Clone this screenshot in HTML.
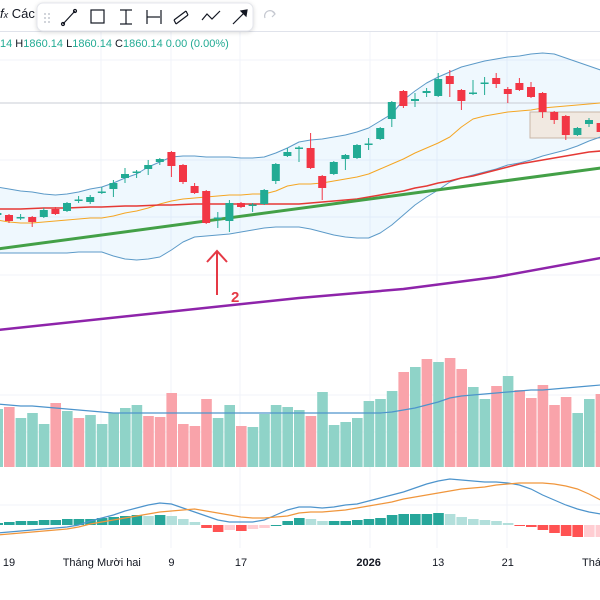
<!DOCTYPE html>
<html><head><meta charset="utf-8"><style>
body{margin:0;width:600px;height:600px;overflow:hidden;background:#fff;font-family:"Liberation Sans",sans-serif}
svg{display:block}
</style></head><body>
<svg id="c" width="600" height="600" viewBox="0 0 600 600">
<g id="grid"></g>
<g id="main"></g>
<g id="vol"></g>
<g id="macd"></g>
<g id="xaxis"></g>
<g>
<line x1="217" y1="295" x2="217" y2="252" stroke="#e53945" stroke-width="2"/>
<polyline points="207,262 217,251 227,262" fill="none" stroke="#e53945" stroke-width="2"/>
<text x="231" y="302" font-size="15" font-weight="bold" fill="#e53945">2</text>
</g>
<g>
<rect x="0" y="0" width="600" height="31" fill="#fff"/>
<line x1="0" y1="31.5" x2="600" y2="31.5" stroke="#e0e3eb"/>
<text x="0" y="18" font-size="13" fill="#131722" font-style="italic">f<tspan font-size="9">x</tspan> <tspan font-style="normal">Các</tspan></text>
<g>
<rect x="37" y="3" width="216" height="28" rx="6" fill="#fff" stroke="#e4e6ec" style="filter:drop-shadow(0 1px 2px rgba(0,0,0,.15))"/>
<g fill="#c5c8d0"><circle cx="45" cy="14" r="1"/><circle cx="49" cy="14" r="1"/><circle cx="45" cy="18" r="1"/><circle cx="49" cy="18" r="1"/><circle cx="45" cy="22" r="1"/><circle cx="49" cy="22" r="1"/></g>
<g fill="none" stroke="#131722" stroke-width="1.2">
<g><line x1="63" y1="24" x2="75" y2="11"/><circle cx="63" cy="24" r="1.5"/><circle cx="75" cy="11" r="1.5"/></g>
<g><rect x="91" y="10" width="13" height="13"/></g>
<g><line x1="120" y1="10" x2="132" y2="10"/><line x1="126" y1="10" x2="126" y2="24"/><line x1="120" y1="24" x2="132" y2="24"/></g>
<g><line x1="147" y1="10" x2="147" y2="24"/><line x1="147" y1="17" x2="160" y2="17"/><line x1="161" y1="10" x2="161" y2="24"/></g>
<g><path d="M174 20 L186 11 M176 24 L188 15 M174 20 L176 24 M186 11 L188 15"/></g>
<g><polyline points="202,20 207,14 212,19 220,11"/></g>
<g><line x1="233" y1="24" x2="246" y2="11"/><path d="M241 11 L247 10 L246 16 Z" fill="#131722"/></g>
</g></g>
<path d="M265 18 A5 5 0 0 1 275 14 M272 11 L275 14 L272 17" fill="none" stroke="#c5c8d0" stroke-width="1.2"/>
</g>
<text x="0" y="47" font-size="11" fill="#22ab94">14 <tspan fill="#131722">H</tspan>1860.14 <tspan fill="#131722">L</tspan>1860.14 <tspan fill="#131722">C</tspan>1860.14 0.00 (0.00%)</text>
</svg>
<script>
const openP=[1785,1785,1782,1783,1783,1791,1789,1799.5,1798,1807.5,1811,1822,1827.5,1831,1838,1848,1835,1814,1809,1781.5,1779,1797,1794.5,1796,1819,1844,1851,1852,1824,1826,1841,1842,1855.5,1861,1881,1909,1899,1907,1904,1924,1910,1906.5,1916.5,1922,1911,1917,1913,1907,1888,1884,1865,1876,1877];
const closeP=[1787,1779,1783,1778,1790,1786,1797,1800.5,1803,1808.5,1817,1826,1828.5,1835,1841,1834,1818,1807,1777,1782.5,1797,1793,1795.5,1810,1836,1848,1852.5,1832,1812,1838,1845,1855,1856.5,1872,1898,1894,1901,1909,1921,1916,1899,1907.5,1917.5,1916,1906,1910,1903,1888,1880,1865,1872,1880,1868];
const highP=[1788,1786,1786,1784,1792,1793,1798,1804,1805,1813,1820,1832,1830,1840,1842,1849,1836,1817,1810,1788,1800,1798,1797,1811,1837,1852,1854,1867,1825,1839,1846,1856,1862,1873,1899,1910,1907,1912,1927,1930,1911,1920,1923,1927,1913,1922,1918,1908,1889,1885,1873,1882,1878];
const lowP=[1783,1777,1780,1773,1782,1785,1788,1797,1796,1806,1803,1817,1822,1825,1835,1823,1816,1806,1776,1772,1768,1792,1788,1795,1816,1843,1838,1831,1800,1825,1830,1841,1850,1860,1873,1892,1893,1903,1903,1903,1890,1905,1905,1912,1897,1909,1902,1882,1876,1860,1864,1873,1853];
const bbUpperY=[187,189,191,192,194,195,194,192,189,187,183,178,174,167,162,157,156,156,157,157,157,158,158,157,153,148,142,140,139,137,135,132,128,121,114,100,91,83,77,72,67,64,61,59,57,56,54,53,54,58,62,66,70];
const bbLowerY=[253,253,253,253,253,253,253,252,252,252,256,259,260,259,257,250,242,237,236,235,234,232,230,228,227,227,227,229,232,235,237,238,238,233,225,215,205,197,190,182,178,175,172,169,165,163,160,156,153,150,146,141,137];
const bbMidY=[220,222,223,223,222,221,220,219,218,218,216,213,211,208,204,201,199,198,197,196,195,195,194,194,191,186,184,184,183,181,179,177,174,169,164,159,153,148,143,137,127,119,116,114,112,111,110,108,107,106,105,104,103];
const ma50Y=[209,209,209,208.5,208,208,208,207.5,207,207,206.5,206,206,205.5,205,205,204.5,204,204,204,204,204,204,204,204,204,204,203,202,201,200,199,197,195,193,191,188,186,183,181,178,176,173,170,167,164,162,160,158,156,154,152,151];
const trendIdx=[0,52];
const trendY=[249,168];
const ma200Idx=[0,13,26,35,43,52];
const ma200Y=[330,314,298,289,277,258];
const volume=[580,600,490,540,430,640,560,490,520,430,540,590,620,510,500,740,430,410,680,490,620,410,400,530,620,600,570,510,750,420,450,490,660,680,760,950,1000,1080,1050,1090,980,800,680,810,910,770,690,820,620,700,540,680,730];
const volUp=[1,0,1,1,1,0,1,0,1,1,1,1,1,0,0,0,0,0,0,1,1,0,1,1,1,1,1,0,1,1,1,1,1,1,1,0,1,0,1,0,0,1,1,0,1,0,0,0,0,0,1,1,0];
const volMA=[630,620,610,610,600,590,580,570,560,550,540,540,540,540,540,540,540,540,540,540,540,540,540,540,540,540,540,540,540,540,540,540,540,540,550,570,590,620,650,690,710,720,730,740,750,760,770,770,780,790,800,810,820];
const macdHist=[2,3,4,4,5,5,6,6,6,7,8,9,10,9,10,9,6,3,-3,-7,-5,-6,-4,-3,0,4,7,6,4,4,4,5,6,7,10,11,11,11,12,11,8,6,5,4,2,-1,-2,-5,-8,-11,-12,-12,-12];
const macdLine=[-8,-7,-6,-5,-4,-3,-2,0,4,7,10,14,17,20,22,21,17,13,9,5,3,3,3,5,10,15,18,18,17,18,20,21,24,27,30,33,37,41,44,46,45,44,43,43,42,40,36,30,25,20,16,13,11];
const signalLine=[-10,-9,-8,-7,-6,-5,-4,-2,1,3,5,7,9,11,13,14,15,16,14,12,10,8,7,7,8,9,12,13,13,14,15,17,19,21,23,26,28,30,32,34,36,37,38,40,41,42,42,42,41,39,36,31,25];
const xTicks=[1,9,15,21,32,38,44,51.3];
const xTickLabels=["19","Tháng Mười hai","9","17","2026","13","21","Tháng"];

const NS="http://www.w3.org/2000/svg";
const x=i=>-2.6+11.6*i;
const yPrice=p=>2000-p;
const yVol=v=>467-v/10;
const yMacd=v=>525-v;
function mk(tag,attrs,parent){const e=document.createElementNS(NS,tag);for(const k in attrs)e.setAttribute(k,attrs[k]);parent.appendChild(e);return e;}
const grid=document.getElementById('grid'),main=document.getElementById('main'),vol=document.getElementById('vol'),macd=document.getElementById('macd'),xa=document.getElementById('xaxis');
[101,171,240,370,437,507].forEach(gx=>{const l=mk('line',{x1:gx,x2:gx,y1:32,y2:548,stroke:'#f0f3fa'},grid);});
[60,103,160,217,275,395,432,505].forEach(gy=>{const l=mk('line',{x1:0,x2:600,y1:gy,y2:gy,stroke:'#f0f3fa'},grid);});
// bands
let up=bbUpperY.map((v,i)=>x(i)+','+v),lo=bbLowerY.map((v,i)=>x(i)+','+v).reverse();
const fill=mk('polygon',{points:up.concat(lo).join(' '),fill:'rgba(33,150,243,0.07)'},main);

const pl=(arr,xs,stroke,w,name)=>{const e=mk('polyline',{points:arr.map((v,i)=>xs(i)+','+v).join(' '),fill:'none',stroke:stroke,'stroke-width':w,'stroke-linejoin':'round'},main);return e;};
const price=mk('line',{x1:0,x2:600,y1:103,y2:103,stroke:'#c9ccd4'},main);

const box=mk('rect',{x:530,y:112,width:72,height:26,fill:'rgba(245,200,160,0.3)',stroke:'#c9b6a8'},main);

pl(bbUpperY,x,'#5c9ac8',1,'bollinger-upper');
pl(bbLowerY,x,'#5c9ac8',1,'bollinger-lower');
pl(bbMidY,x,'#f5a623',1,'bollinger-basis');
pl(ma50Y,x,'#e53935',1.6,'ma-50');
pl(trendY,i=>x(trendIdx[i]),'#43a047',3,'ma-green');
pl(ma200Y,i=>x(ma200Idx[i]),'#8e24aa',2.5,'ma-200');
openP.forEach((o,i)=>{const c=closeP[i],upc=c>=o,col=upc?'#22ab94':'#f23645';
const w=mk('line',{x1:x(i),x2:x(i),y1:yPrice(highP[i]),y2:yPrice(lowP[i]),stroke:col,'stroke-width':1},main);

const t=Math.min(yPrice(o),yPrice(c)),h=Math.max(1.5,Math.abs(o-c));
const b=mk('rect',{x:x(i)-4,y:t,width:8,height:h,fill:col},main);
});
// volume
volume.forEach((v,i)=>{const r=mk('rect',{x:x(i)-5,y:yVol(v),width:10.6,height:467-yVol(v),fill:volUp[i]?'#8fd3c8':'#f9a3aa'},vol);
});
const vm=mk('polyline',{points:volMA.map((v,i)=>x(i)+','+yVol(v)).join(' '),fill:'none',stroke:'#4d94cc','stroke-width':1.2},vol);

// macd
macdHist.forEach((v,i)=>{const prev=i?macdHist[i-1]:v;let col;
if(v>=0)col=v>=prev?'#26a69a':'#b2dfdb';else col=v<prev?'#ff5252':'#ffcdd2';
const y0=yMacd(0),y1=yMacd(v);
const r=mk('rect',{x:x(i)-5,y:Math.min(y0,y1),width:10.6,height:Math.max(1,Math.abs(y1-y0)),fill:col},macd);
});
const ml=mk('polyline',{points:macdLine.map((v,i)=>x(i)+','+yMacd(v)).join(' '),fill:'none',stroke:'#4d94cc','stroke-width':1.2},macd);

const sl=mk('polyline',{points:signalLine.map((v,i)=>x(i)+','+yMacd(v)).join(' '),fill:'none',stroke:'#f0963c','stroke-width':1.2},macd);

// x axis
xTicks.forEach((t,i)=>{const lbl=xTickLabels[i];const tx=mk('text',{x:x(t),y:566,'font-size':11,fill:'#131722','text-anchor':i==7?'start':'middle','font-weight':lbl==='2026'?'bold':'normal'},xa);
if(i==7)tx.setAttribute('x',582);
tx.textContent=lbl;});
</script>
</body></html>
